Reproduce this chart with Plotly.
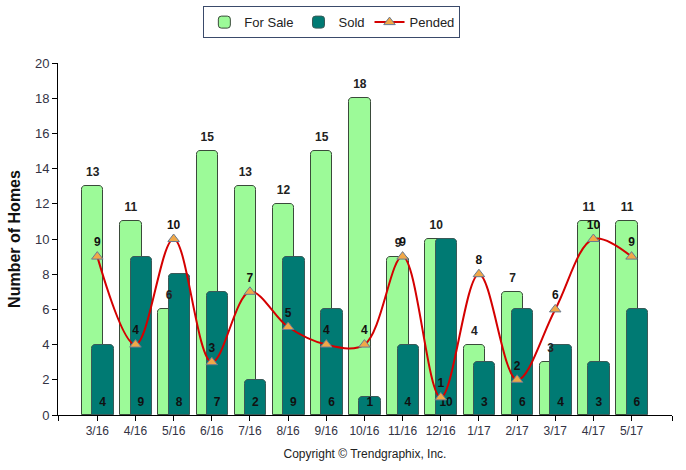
import plotly.graph_objects as go

months = ["3/16", "4/16", "5/16", "6/16", "7/16", "8/16", "9/16", "10/16",
          "11/16", "12/16", "1/17", "2/17", "3/17", "4/17", "5/17"]
for_sale = [13, 11, 6, 15, 13, 12, 15, 18, 9, 10, 4, 7, 3, 11, 11]
sold = [4, 9, 8, 7, 2, 9, 6, 1, 4, 10, 3, 6, 4, 3, 6]
pended = [9, 4, 10, 3, 7, 5, 4, 4, 9, 1, 8, 2, 6, 10, 9]

x = list(range(len(months)))
W = 0.56
FONT = "Liberation Sans, Arial, sans-serif"
XMIN, XMAX = -1.03, 15.06

fig = go.Figure()
fig.add_trace(go.Bar(
    x=x, y=for_sale, name="For Sale", offset=-0.40, width=W,
    marker=dict(color="#9CFA98", line=dict(color="#3A4A3A", width=1)),
    textposition="none",
))
fig.add_trace(go.Bar(
    x=x, y=sold, name="Sold", offset=-0.13, width=W,
    marker=dict(color="#007A73", line=dict(color="#3A5A58", width=1)),
    textposition="none",
))
fig.add_trace(go.Scatter(
    x=[v - 0.12 for v in x], y=[v + 0.74 for v in for_sale], mode="text",
    text=["<b>%d</b>" % v for v in for_sale], textposition="middle center",
    textfont=dict(family=FONT, size=12, color="#222222"),
    showlegend=False, hoverinfo="skip", cliponaxis=False,
))
fig.add_trace(go.Scatter(
    x=[v + 0.14 for v in x], y=[0.68] * len(x), mode="text",
    text=["<b>%d</b>" % v for v in sold], textposition="middle center",
    textfont=dict(family=FONT, size=12, color="#111111"),
    showlegend=False, hoverinfo="skip",
))
fig.add_trace(go.Scatter(
    x=x, y=pended, name="Pended", mode="lines+markers+text",
    line=dict(color="#D40000", width=2, shape="spline", smoothing=1.0),
    marker=dict(symbol="triangle-up", size=10, color="#F0A848",
                line=dict(color="#6A7A90", width=1)),
    text=["<b>%d</b>" % v for v in pended], textposition="top center",
    textfont=dict(family=FONT, size=12, color="#111111"),
    cliponaxis=False,
))

fig.update_layout(
    width=686, height=470,
    barmode="overlay", bargap=0,
    barcornerradius=4,
    paper_bgcolor="white", plot_bgcolor="white",
    margin=dict(l=58, r=14, t=63, b=55, autoexpand=False),
    font=dict(family=FONT, size=12, color="#333333"),
    showlegend=True,
    legend=dict(orientation="h", x=0.446, xanchor="center", y=1.116, yanchor="middle",
                bordercolor="#3A4A6A", borderwidth=1, bgcolor="white",
                font=dict(family=FONT, size=13, color="#222222"),
                traceorder="normal"),
    xaxis=dict(range=[XMIN, XMAX], tickmode="array",
               tickvals=[XMIN] + x + [XMAX], ticktext=[""] + months + [""],
               showline=True, linecolor="black", linewidth=1,
               ticks="outside", ticklen=5, tickcolor="black",
               showgrid=False, zeroline=False,
               tickfont=dict(family=FONT, size=12, color="#333344"),
               title=dict(text="Copyright \u00a9 Trendgraphix, Inc.",
                          font=dict(family=FONT, size=12, color="#222222"),
                          standoff=12)),
    yaxis=dict(range=[0, 20], tickmode="linear", tick0=0, dtick=2,
               showline=True, linecolor="black", linewidth=1,
               ticks="outside", ticklen=5, tickcolor="black",
               showgrid=False, zeroline=False,
               tickfont=dict(family=FONT, size=13, color="#333344"),
               title=dict(text="<b>Number of Homes</b>",
                          font=dict(family=FONT, size=16, color="#111111"),
                          standoff=10)),
)

fig.write_html("out.html", config={"displayModeBar": False},
               post_script="document.body.style.margin='0';document.body.style.padding='0';")
